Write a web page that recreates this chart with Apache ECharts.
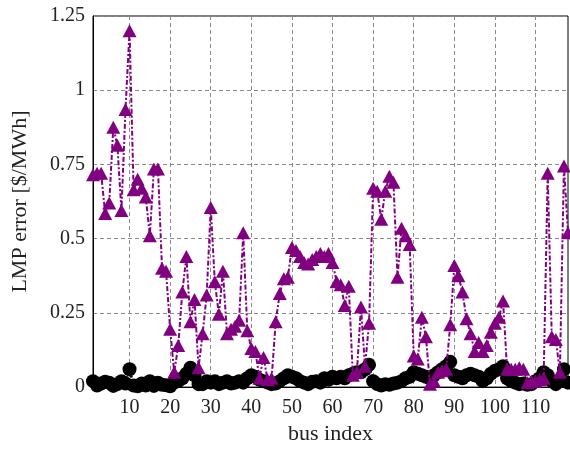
<!DOCTYPE html>
<html>
<head>
<meta charset="utf-8">
<script src="https://cdn.jsdelivr.net/npm/echarts@6/dist/echarts.min.js"></script>
<style>
  html, body { margin: 0; padding: 0; background: #fff; }
  #chart { width: 570px; height: 450px; }
</style>
</head>
<body>
<div id="chart"></div>
<script>
// Bus numbers 1..118 of the test system
const buses = [];
for (let b = 1; b <= 118; b++) buses.push(b);

// LMP error per bus, purple triangle series
const errTriangle = [
  0.715, 0.72, 0.72, 0.585, 0.62, 0.875, 0.815, 0.595, 0.935, 1.20,
  0.665, 0.70, 0.67, 0.64, 0.51, 0.735, 0.735, 0.40, 0.39, 0.195,
  0.05, 0.14, 0.32, 0.44, 0.22, 0.295, 0.065, 0.18, 0.31, 0.605,
  0.355, 0.245, 0.39, 0.18, 0.195, 0.205, 0.225, 0.52, 0.19, 0.13,
  0.12, 0.03, 0.10, 0.025, 0.03, 0.22, 0.315, 0.365, 0.37, 0.47,
  0.46, 0.44, 0.42, 0.415, 0.43, 0.44, 0.45, 0.44, 0.45, 0.42,
  0.355, 0.345, 0.275, 0.34, 0.04, 0.05, 0.27, 0.07, 0.215, 0.67,
  0.66, 0.565, 0.66, 0.71, 0.69, 0.37, 0.535, 0.51, 0.48, 0.105,
  0.095, 0.235, 0.17, 0.01, 0.02, 0.05, 0.055, 0.06, 0.21, 0.41,
  0.375, 0.32, 0.23, 0.18, 0.12, 0.15, 0.12, 0.14, 0.185, 0.215,
  0.235, 0.29, 0.06, 0.06, 0.06, 0.065, 0.06, 0.015, 0.02, 0.02,
  0.025, 0.03, 0.72, 0.17, 0.16, 0.05, 0.745, 0.52
];

// LMP error per bus, black circle series
const errCircle = [
  0.02, 0.005, 0.012, 0.018, 0.015, 0.004, 0.01, 0.02, 0.012, 0.06,
  0.005, 0.003, 0.012, 0.005, 0.02, 0.004, 0.015, 0.008, 0.006, 0.003,
  0.015, 0.02, 0.03, 0.045, 0.065, 0.04, 0.01, 0.01, 0.02, 0.015,
  0.02, 0.01, 0.015, 0.02, 0.012, 0.015, 0.02, 0.015, 0.03, 0.04,
  0.035, 0.025, 0.02, 0.015, 0.01, 0.012, 0.02, 0.03, 0.04, 0.035,
  0.03, 0.02, 0.015, 0.01, 0.018, 0.02, 0.015, 0.03, 0.025, 0.035,
  0.03, 0.035, 0.03, 0.04, 0.045, 0.05, 0.05, 0.06, 0.075, 0.02,
  0.01, 0.005, 0.01, 0.008, 0.012, 0.015, 0.02, 0.03, 0.035, 0.05,
  0.045, 0.04, 0.035, 0.03, 0.04, 0.05, 0.06, 0.07, 0.085, 0.04,
  0.035, 0.03, 0.04, 0.045, 0.04, 0.035, 0.02, 0.03, 0.045, 0.055,
  0.06, 0.07, 0.03, 0.02, 0.015, 0.01, 0.012, 0.008, 0.01, 0.02,
  0.03, 0.05, 0.04, 0.02, 0.01, 0.02, 0.06, 0.015
];

// Axis ticks
const xTicks = [10, 20, 30, 40, 50, 60, 70, 80, 90, 100, 110];
const yTicks = [0, 0.25, 0.5, 0.75, 1, 1.25];

const FONT = '"Liberation Serif", "DejaVu Serif", serif';
const PURPLE = '#800080';

const chart = echarts.init(document.getElementById('chart'), null, { renderer: 'canvas' });

chart.setOption({
  animation: false,
  backgroundColor: '#fff',
  grid: {
    left: 93, right: 2, top: 16, bottom: 62,
    show: true, borderColor: '#000', borderWidth: 1, backgroundColor: 'transparent'
  },
  xAxis: {
    type: 'value',
    min: 1, max: 118,
    name: 'bus index',
    nameLocation: 'middle',
    nameGap: 34,
    nameTextStyle: { fontFamily: FONT, fontSize: 22, color: '#222' },
    axisLine: { show: true, lineStyle: { color: '#000', width: 1 } },
    axisTick: { show: false, customValues: xTicks },
    axisLabel: { customValues: xTicks, fontFamily: FONT, fontSize: 20, color: '#222', margin: 11 },
    splitLine: { show: true, lineStyle: { color: '#8a8a8a', type: [4, 3], width: 1 } }
  },
  yAxis: {
    type: 'value',
    min: 0, max: 1.25, interval: 0.25,
    name: 'LMP error [$/MWh]',
    nameLocation: 'middle',
    nameGap: 62,
    nameTextStyle: { fontFamily: FONT, fontSize: 22, color: '#222' },
    axisLine: { show: true, lineStyle: { color: '#000', width: 1 } },
    axisTick: { show: false },
    axisLabel: {
      fontFamily: FONT, fontSize: 20, color: '#222', margin: 8,
      formatter: v => String(yTicks.find(t => Math.abs(t - v) < 1e-9) ?? v)
    },
    splitLine: { show: true, lineStyle: { color: '#8a8a8a', type: [4, 3], width: 1 } }
  },
  series: [
    {
      name: 'circle',
      type: 'line',
      data: buses.map((b, i) => [b, errCircle[i]]),
      symbol: 'circle',
      symbolSize: 14,
      showAllSymbol: true,
      itemStyle: { color: '#000' },
      lineStyle: { color: '#000', width: 2.5, type: [2, 2] },
      z: 2
    },
    {
      name: 'triangle',
      type: 'line',
      data: buses.map((b, i) => [b, errTriangle[i]]),
      symbol: 'triangle',
      symbolSize: [14, 13],
      showAllSymbol: true,
      itemStyle: { color: PURPLE },
      lineStyle: { color: PURPLE, width: 2, type: [2, 2, 5, 2] },
      z: 3
    }
  ]
});
</script>
</body>
</html>
